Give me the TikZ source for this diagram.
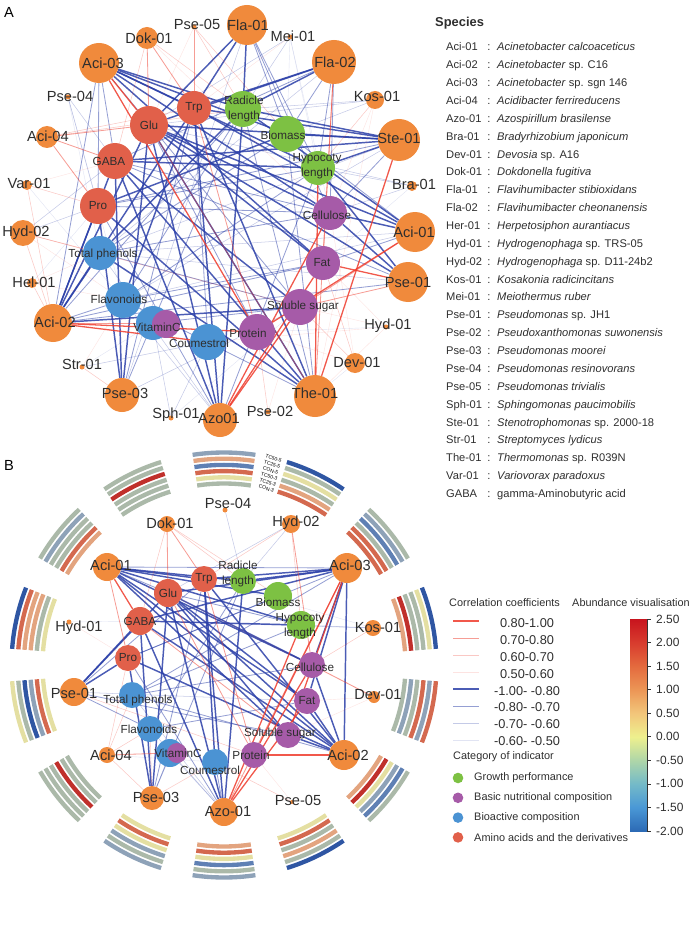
\documentclass[tikz,border=0pt]{standalone}
\usepackage{fontspec}
\setmainfont{Liberation Sans}

% node colours
\definecolor{cSp}{HTML}{F08A3C}
\definecolor{cAm}{HTML}{E1604A}
\definecolor{cGr}{HTML}{7DC143}
\definecolor{cPu}{HTML}{A65BA8}
\definecolor{cBl}{HTML}{4B93D3}
\definecolor{cTxt}{HTML}{2E2E2E}
\definecolor{eRed}{HTML}{EE3B2C}
\definecolor{eBlue}{HTML}{2B3FA8}
% ring stripe colours
\definecolor{sGG}{HTML}{ABB9A9}
\definecolor{sPY}{HTML}{E4DFA2}
\definecolor{sRO}{HTML}{D4694F}
\definecolor{sMB}{HTML}{5F80B4}
\definecolor{sPC}{HTML}{E3A47F}
\definecolor{sBG}{HTML}{8EA2B8}
\definecolor{sDB}{HTML}{2F56A3}
\definecolor{sDR}{HTML}{C0302B}
% colour bar
\definecolor{cb0}{HTML}{2C6AB5}
\definecolor{cb1}{HTML}{4A98D6}
\definecolor{cb2}{HTML}{74BAC8}
\definecolor{cb3}{HTML}{AFD6A8}
\definecolor{cb4}{HTML}{EEF08E}
\definecolor{cb5}{HTML}{F2C57A}
\definecolor{cb6}{HTML}{EC9656}
\definecolor{cb7}{HTML}{E46A3E}
\definecolor{cb8}{HTML}{D83C2E}
\definecolor{cb9}{HTML}{C8141E}

\pgfdeclarelayer{edges}
\pgfdeclarelayer{labels}
\pgfsetlayers{edges,main,labels}

\pgfdeclareverticalshading{abund}{100bp}{color(0bp)=(cb0); color(25bp)=(cb0);
  color(30.6bp)=(cb1); color(36.1bp)=(cb2); color(41.7bp)=(cb3); color(47.2bp)=(cb4);
  color(52.8bp)=(cb5); color(58.3bp)=(cb6); color(63.9bp)=(cb7); color(69.4bp)=(cb8);
  color(75bp)=(cb9); color(100bp)=(cb9)}

\begin{document}
\begin{tikzpicture}[
    x=0.03cm, y=-0.03cm,
    sp/.style={circle, fill=cSp, inner sep=0pt, minimum size=#1*0.06cm},
    am/.style={circle, fill=cAm, inner sep=0pt, minimum size=#1*0.06cm},
    gr/.style={circle, fill=cGr, inner sep=0pt, minimum size=#1*0.06cm},
    pu/.style={circle, fill=cPu, inner sep=0pt, minimum size=#1*0.06cm},
    bl/.style={circle, fill=cBl, inner sep=0pt, minimum size=#1*0.06cm},
    slab/.style={font=\fontsize{12.5}{14}\selectfont, text=cTxt, inner sep=0pt},
    ilab/.style={font=\fontsize{10}{12.6}\selectfont, text=cTxt, inner sep=0pt, align=center},
    p1/.style={draw=eRed, line width=1.1pt, draw opacity=.85},
    p2/.style={draw=eRed, line width=.7pt, draw opacity=.5},
    p3/.style={draw=eRed, line width=.45pt, draw opacity=.28},
    p4/.style={draw=eRed, line width=.35pt, draw opacity=.14},
    n1/.style={draw=eBlue, line width=1.25pt, draw opacity=.85},
    n2/.style={draw=eBlue, line width=.7pt, draw opacity=.5},
    n3/.style={draw=eBlue, line width=.45pt, draw opacity=.28},
    n4/.style={draw=eBlue, line width=.35pt, draw opacity=.14},
    stripe/.style={line width=3.7pt},
    rlab/.style={font=\fontsize{4.3}{4.5}\selectfont, inner sep=0pt, rotate=-18},
    lst/.style={font=\fontsize{9.5}{11}\selectfont, text=cTxt, inner sep=0pt},
    leg/.style={font=\fontsize{9.3}{11}\selectfont, text=cTxt, inner sep=0pt},
    legv/.style={font=\fontsize{10.9}{12}\selectfont, text=cTxt, inner sep=0pt},
    cbl/.style={font=\fontsize{10.2}{12}\selectfont, text=cTxt, inner sep=0pt},
    panel/.style={font=\fontsize{12.5}{14}\selectfont, inner sep=0pt}
]
    \useasboundingbox (0,0) rectangle (694,931);

    \node[panel] (pA) at (9,12) {A};
    \node[panel] (pB) at (9,465) {B};

    % ================= A: species =================
    \foreach \n/\x/\y/\r/\lx/\ly/\t in {
        aFla01/247/25/20/248/25/Fla-01, aPse05/194/27/2.5/197/24/Pse-05,
        aMei01/290/37/2.5/293/36/Mei-01, aDok01/147/38/11/149/38/Dok-01,
        aAci03/99/63/20/103/63/Aci-03, aFla02/334/62/22/335/62/Fla-02,
        aPse04/68/97/2.5/70/96/Pse-04, aKos01/375/100/9/377/96/Kos-01,
        aAci04/47/137/11/48/136/Aci-04, aSte01/399/140/21/399/138/Ste-01,
        aVar01/27/185/5/29/183/Var-01, aBra01/412/186/5/414/184/Bra-01,
        aHyd02/23/233/13/26/233/Hyd-02, aAci01/415/232/20/414/232/Aci-01,
        aHel01/32/283/5/34/282/Hel-01, aPse01/408/282/20/408/282/Pse-01,
        aAci02/53/323/19/55/322/Aci-02, aHyd01/386/327/2.5/388/326/Hyd-01,
        aStr01/82/367/2.5/82/364/Str-01, aDev01/355/363/10/357/362/Dev-01,
        aPse03/122/395/17/125/393/Pse-03, aThe01/315/396/21/315/393/The-01,
        aSph01/171/418/2.5/176/415/Sph-01, aAzo01/220/420/17/219/418/Azo01,
        aPse02/268/412/2.5/270/411/Pse-02} {
        \node[sp=\r] (\n) at (\x,\y) {};
        \begin{pgfonlayer}{labels}
            \node[slab] (t\n) at (\lx,\ly) {\t};
        \end{pgfonlayer}
    }

    % ================= A: indicators =================
    \foreach \n/\s/\x/\y/\r/\lx/\ly/\t in {
        aTrp/am/194/108/17/194/108/Trp, aRad/gr/243/109/18/244/109/Radicle\\length,
        aGlu/am/149/125/19/149/125/Glu, aBio/gr/287/134/18/283/135/Biomass,
        aGABA/am/115/161/18/109/161/GABA, aHyp/gr/318/168/17/317/166/Hypocoty\\length,
        aPro/am/98/206/18/98/206/Pro, aCel/pu/330/213/17/327/215/Cellulose,
        aTPh/bl/100/253/17/103/254/Total phenols, aFat/pu/323/263/17/322/263/Fat,
        aFlav/bl/123/300/18/119/299/Flavonoids, aSug/pu/300/307/18/303/306/Soluble sugar,
        aVitC/bl/153/323/17/157/327/VitaminC, aCoum/bl/208/342/18/199/343/Coumestrol,
        aProt/pu/257/332/18/248/333/Protein} {
        \node[\s=\r] (\n) at (\x,\y) {};
        \begin{pgfonlayer}{labels}
            \node[ilab] (t\n) at (\lx,\ly) {\t};
        \end{pgfonlayer}
    }
    \node[pu=14] (aVitP) at (166,324) {};

    % ---- A: correlations ----
    \begin{pgfonlayer}{edges}
    \foreach \a/\b in {aFla01/aGlu, aFla01/aTrp, aFla01/aRad, aFla02/aTrp, aFla02/aRad, aFla02/aGlu,
        aAci03/aTrp, aAci03/aRad, aAci03/aBio, aAci03/aHyp, aAci03/aCel, aAci03/aFat,
        aSte01/aTrp, aSte01/aRad, aSte01/aGlu, aSte01/aGABA, aSte01/aHyp, aSte01/aBio,
        aAci01/aRad, aAci01/aGlu, aAci01/aCel, aAci01/aTrp, aPse01/aCel, aPse01/aHyp, aPse01/aGlu,
        aAci02/aPro, aAci02/aGABA, aAci02/aGlu, aAci02/aTPh, aAci02/aSug, aAci02/aTrp,
        aPse03/aPro, aPse03/aGABA, aPse03/aGlu, aAzo01/aGlu, aAzo01/aTrp, aAzo01/aGABA, aAzo01/aRad,
        aThe01/aGlu, aThe01/aGABA, aThe01/aPro, aThe01/aTPh, aThe01/aTrp,
        aGlu/aCel, aGlu/aFat, aGABA/aHyp, aTrp/aFlav, aPro/aBio, aRad/aTPh, aGABA/aSug}
        \draw[n1] (\a) -- (\b);
    \foreach \a/\b in {aFla01/aHyp, aFla01/aBio, aFla01/aCel, aFla02/aHyp, aFla02/aBio, aFla02/aCel,
        aFla02/aGABA, aAci01/aFat, aAci01/aBio, aPse01/aGABA, aPse03/aRad, aPse03/aTrp,
        aAzo01/aHyp, aAzo01/aPro, aThe01/aRad, aThe01/aBio, aThe01/aFlav, aAci03/aPro, aAci03/aGABA,
        aAci03/aAci02, aAci03/aSug, aAci02/aFlav, aAci02/aFat, aAci02/aRad, aSte01/aPro, aSte01/aCel,
        aTPh/aSug, aFlav/aFat, aTPh/aCel, aVitC/aSug, aGlu/aProt, aTrp/aCoum, aGABA/aCel,
        aPro/aHyp, aBio/aTPh, aRad/aFlav, aHyp/aFlav, aCel/aPro, aAci02/aPse01}
        \draw[n2] (\a) -- (\b);
    \foreach \a/\b in {aMei01/aRad, aPse04/aGABA, aKos01/aRad, aKos01/aBio, aBra01/aHyp, aBra01/aCel,
        aHyd02/aPro, aHyd02/aGABA, aSph01/aCoum, aSph01/aVitC, aFla01/aPse03, aMei01/aGlu,
        aKos01/aGlu, aBra01/aGlu, aPse04/aPro, aFla02/aTPh, aSte01/aTPh, aPse01/aTPh, aAci01/aFlav,
        aStr01/aCoum, aAzo01/aTPh, aAzo01/aFlav, aPse03/aSug, aSte01/aFlav, aAci01/aTPh}
        \draw[n3] (\a) -- (\b);
    \foreach \a/\b in {aMei01/aBio, aMei01/aHyp, aPse04/aTPh, aStr01/aVitC, aBra01/aFat, aVar01/aFlav,
        aHyd01/aProt, aSph01/aSug, aDev01/aThe01, aHel01/aPro, aMei01/aCel, aPse04/aFlav}
        \draw[n4] (\a) -- (\b);
    \foreach \a/\b in {aAci03/aProt, aAci03/aGlu, aAzo01/aFat, aAzo01/aSug, aAzo01/aCel, aThe01/aHyp,
        aSte01/aThe01, aAci01/aProt, aPse01/aFat, aAci02/aProt, aAci02/aCoum}
        \draw[p1] (\a) -- (\b);
    \foreach \a/\b in {aAci04/aGABA, aAci04/aPro, aDok01/aGlu, aAci01/aSug, aPse01/aSug, aAci02/aVitC,
        aFla02/aFat, aThe01/aFla02, aGlu/aThe01, aTrp/aProt, aAci04/aGlu, aDok01/aTrp, aPse05/aTrp}
        \draw[p2] (\a) -- (\b);
    \foreach \a/\b in {aDok01/aGABA, aDok01/aRad, aPse05/aRad, aKos01/aHyp, aVar01/aPro, aHyd02/aTPh,
        aPse02/aProt, aDev01/aSug, aDev01/aFat, aHyd02/aAci02, aAci04/aTrp, aVar01/aAci02,
        aHyd02/aSug, aHel01/aAci02, aStr01/aPse03, aAci04/aRad, aPse05/aBio}
        \draw[p3] (\a) -- (\b);
    \foreach \a/\b in {aDok01/aCel, aPse05/aGlu, aKos01/aCel, aVar01/aGABA, aHyd02/aFlav, aHel01/aFlav,
        aHel01/aTPh, aHyd01/aSug, aHyd01/aFat, aPse02/aSug, aDev01/aProt, aHyd01/aThe01,
        aMei01/aTrp, aKos01/aThe01, aDev01/aCel, aHyd01/aCoum, aStr01/aFlav}
        \draw[p4] (\a) -- (\b);
    \end{pgfonlayer}

    % ================= species list =================
    \node[font=\bfseries\fontsize{11}{13}\selectfont, text=cTxt, inner sep=0pt, anchor=west]
        (spHead) at (435,23) {Species};
    \foreach \c/\g [count=\i from 0] in {
        Aci-01/\textit{Acinetobacter calcoaceticus}, Aci-02/\textit{Acinetobacter} sp. C16,
        Aci-03/\textit{Acinetobacter} sp. sgn 146, Aci-04/\textit{Acidibacter ferrireducens},
        Azo-01/\textit{Azospirillum brasilense}, Bra-01/\textit{Bradyrhizobium japonicum},
        Dev-01/\textit{Devosia} sp. A16, Dok-01/\textit{Dokdonella fugitiva},
        Fla-01/\textit{Flavihumibacter stibioxidans}, Fla-02/\textit{Flavihumibacter cheonanensis},
        Her-01/\textit{Herpetosiphon aurantiacus}, Hyd-01/\textit{Hydrogenophaga} sp. TRS-05,
        Hyd-02/\textit{Hydrogenophaga} sp. D11-24b2, Kos-01/\textit{Kosakonia radicincitans},
        Mei-01/\textit{Meiothermus ruber}, Pse-01/\textit{Pseudomonas} sp. JH1,
        Pse-02/\textit{Pseudoxanthomonas suwonensis}, Pse-03/\textit{Pseudomonas moorei},
        Pse-04/\textit{Pseudomonas resinovorans}, Pse-05/\textit{Pseudomonas trivialis},
        Sph-01/\textit{Sphingomonas paucimobilis}, Ste-01/\textit{Stenotrophomonas} sp. 2000-18,
        Str-01/\textit{Streptomyces lydicus}, The-01/\textit{Thermomonas} sp. R039N,
        Var-01/\textit{Variovorax paradoxus}, GABA/gamma-Aminobutyric acid} {
        \node[lst, anchor=base west] (sc\i) at (446, 50.8+17.87*\i) {\c};
        \node[lst, anchor=base] (sk\i) at (489, 50.8+17.87*\i) {:};
        \node[lst, anchor=base west] (sn\i) at (497, 50.8+17.87*\i) {\g};
    }

    % ================= B: abundance rings =================
    \begin{scope}[shift={(224,665)}, y=0.03cm]
        \foreach \k/\cols in {0/{sGG,sPY,sRO,sMB,sPC,sBG}, 1/{sRO,sPC,sGG,sPY,sGG,sDB},
            2/{sRO,sRO,sGG,sMB,sBG,sGG}, 3/{sPC,sDR,sGG,sGG,sPY,sDB}, 4/{sGG,sBG,sGG,sRO,sBG,sRO},
            5/{sPC,sDR,sPY,sBG,sMB,sGG}, 6/{sPY,sRO,sGG,sPC,sGG,sDB}, 7/{sPC,sRO,sPY,sMB,sGG,sBG},
            8/{sPY,sRO,sPY,sBG,sGG,sBG}, 9/{sGG,sGG,sDR,sGG,sGG,sGG}, 10/{sPY,sRO,sBG,sDB,sGG,sPY},
            11/{sPY,sGG,sPC,sPC,sRO,sDB}, 12/{sPC,sRO,sGG,sGG,sBG,sGG}, 13/{sGG,sGG,sGG,sDR,sGG,sGG}} {
            \pgfmathsetmacro\amid{90-25.714*\k}
            \foreach \c [count=\i from 0] in \cols {
                \pgfmathsetmacro\arad{181.5+6.2*\i}
                \draw[stripe, draw=\c] ({\amid-8.5}:\arad)
                    arc[start angle=\amid-8.5, end angle=\amid+8.5, radius=\arad];
            }
        }
        \foreach \t [count=\i from 0] in {CON-3,TC25-3,TC50-3,CON-5,TC25-5,TC50-5}
            \node[rlab] (rl\i) at ({76.5}:{181.5+6.2*\i}) {\t};
    \end{scope}

    % ================= B: species =================
    \foreach \n/\x/\y/\r/\lx/\ly/\t in {
        bPse04/225/510/2.5/228/503/Pse-04, bDok01/167/524/8/170/523/Dok-01,
        bHyd02/291/524/9/296/523/Hyd-02, bAci01/107/567/14/111/565/Aci-01,
        bAci03/347/568/15/350/565/Aci-03, bHyd01/69/622/2.5/79/628/Hyd-01,
        bKos01/373/628/8/378/627/Kos-01, bPse01/74/692/14/74/693/Pse-01,
        bDev01/374/697/6/378/694/Dev-01, bAci04/107/755/8/111/755/Aci-04,
        bAci02/344/755/15/348/755/Aci-02, bPse03/152/798/12/156/797/Pse-03,
        bPse05/292/802/2/298/800/Pse-05, bAzo01/224/812/14/228/811/Azo-01} {
        \node[sp=\r] (\n) at (\x,\y) {};
        \begin{pgfonlayer}{labels}
            \node[slab] (t\n) at (\lx,\ly) {\t};
        \end{pgfonlayer}
    }

    % ================= B: indicators =================
    \foreach \n/\s/\x/\y/\r/\lx/\ly/\t in {
        bTrp/am/204/579/13/204/579/Trp, bRad/gr/243/581/13/238/574/Radicle\\length,
        bGlu/am/168/593/14/168/593/Glu, bBio/gr/278/596/14/278/602/Biomass,
        bGABA/am/140/621/14/140/621/GABA, bHyp/gr/301/625/14/300/626/Hypocoty\\length,
        bPro/am/128/658/13/128/658/Pro, bCel/pu/312/665/13/310/667/Cellulose,
        bTPh/bl/132/695/13/138/700/Total phenols, bFat/pu/307/701/13/307/701/Fat,
        bFlav/bl/150/729/13/149/729/Flavonoids, bSug/pu/288/735/13/280/733/Soluble sugar,
        bVitC/bl/170/753/14/178/753/VitaminC, bCoum/bl/215/762/13/210/770/Coumestrol,
        bProt/pu/254/755/13/251/755/Protein} {
        \node[\s=\r] (\n) at (\x,\y) {};
        \begin{pgfonlayer}{labels}
            \node[ilab] (t\n) at (\lx,\ly) {\t};
        \end{pgfonlayer}
    }
    \node[pu=10] (bVitP) at (177,753) {};

    % ---- B: correlations ----
    \begin{pgfonlayer}{edges}
    \foreach \a/\b in {bAci01/bTrp, bAci01/bRad, bAci01/bBio, bAci01/bHyp, bAci01/bCel, bAci01/bFat,
        bAci01/bAci02, bAci01/bSug, bAci03/bGlu, bAci03/bTrp, bAci03/bGABA, bAci03/bAci02,
        bAci03/bFat, bAci03/bCel, bAci03/bRad, bAci02/bGlu, bAci02/bGABA, bAci02/bTrp, bAci02/bCel,
        bAci02/bFat, bAci02/bSug, bAci02/bPro, bPse01/bGABA, bPse01/bPro, bPse01/bGlu,
        bAzo01/bGlu, bAzo01/bGABA, bAzo01/bTrp, bAzo01/bRad, bPse03/bGlu, bPse03/bGABA, bPse03/bPro,
        bGlu/bFat, bGlu/bSug, bGABA/bHyp, bGlu/bCel, bTrp/bCoum}
        \draw[n1] (\a) -- (\b);
    \foreach \a/\b in {bAci01/bGlu, bAci01/bAci03, bAci03/bPro, bAci03/bTPh, bPse01/bFlav, bPse01/bSug,
        bPse01/bTrp, bPse03/bRad, bPse03/bTrp, bAzo01/bCoum, bAzo01/bPro, bTPh/bCel, bFlav/bFat,
        bTPh/bHyp, bRad/bFlav, bGlu/bHyp, bPro/bBio, bAci02/bTPh}
        \draw[n2] (\a) -- (\b);
    \foreach \a/\b in {bHyd02/bRad, bHyd02/bGlu, bPse04/bRad, bKos01/bHyp, bPse01/bFat, bPse03/bVitC,
        bAzo01/bTPh, bAzo01/bFlav, bAzo01/bVitC, bKos01/bGABA}
        \draw[n3] (\a) -- (\b);
    \foreach \a/\b in {bKos01/bTrp, bAci04/bCoum, bHyd01/bGABA}
        \draw[n4] (\a) -- (\b);
    \foreach \a/\b in {bAci02/bProt, bAzo01/bCel, bAzo01/bFat, bAzo01/bHyp, bAci03/bProt,
        bAci01/bGABA, bAci03/bSug}
        \draw[p1] (\a) -- (\b);
    \foreach \a/\b in {bDok01/bGlu, bDok01/bTrp, bHyd02/bCel, bDev01/bCel, bAci04/bVitC, bGABA/bSug,
        bAci03/bAzo01, bAci01/bPro, bTrp/bProt, bGlu/bProt}
        \draw[p2] (\a) -- (\b);
    \foreach \a/\b in {bDok01/bGABA, bDok01/bRad, bDok01/bBio, bHyd02/bHyp, bHyd02/bTrp, bAci04/bFlav,
        bAci04/bTPh, bAci04/bPro, bPse05/bCoum, bPse01/bProt, bPse03/bCoum, bPse03/bFlav,
        bAci04/bPse03, bKos01/bCel}
        \draw[p3] (\a) -- (\b);
    \foreach \a/\b in {bDev01/bSug, bDev01/bFat, bHyd01/bPro, bPse05/bProt, bDev01/bGlu}
        \draw[p4] (\a) -- (\b);
    \end{pgfonlayer}

    % ================= legend =================
    \node[leg, anchor=west] (lgCorr) at (449,603) {Correlation coefficients};
    \node[leg, anchor=west] (lgAbund) at (572,603) {Abundance visualisation};
    \foreach \s/\t [count=\i from 0] in {p1/0.80-1.00, p2/0.70-0.80, p3/0.60-0.70, p4/0.50-0.60,
        n1/-1.00- -0.80, n2/-0.80- -0.70, n3/-0.70- -0.60, n4/-0.60- -0.50} {
        \draw[\s] (453, 621+17*\i) -- (479, 621+17*\i);
        \node[legv] (lv\i) at (527, 623+16.9*\i) {\t};
    }
    \node[leg, anchor=west] (lgCat) at (453,757) {Category of indicator};
    \foreach \s/\t [count=\i from 0] in {gr/Growth performance, pu/Basic nutritional composition,
        bl/Bioactive composition, am/Amino acids and the derivatives} {
        \node[\s=5.3] (ld\i) at (458, 778+19.8*\i) {};
        \node[leg, anchor=west] (lc\i) at (474, 778+19.8*\i) {\t};
    }

    % ---- colour bar ----
    \shade[shading=abund] (630,619) rectangle (647,831);
    \draw[black!80, line width=.6pt] (647,619) -- (647,831);
    \foreach \v [count=\i from 0] in {2.50, 2.00, 1.50, 1.00, 0.50, 0.00, -0.50, -1.00, -1.50, -2.00} {
        \draw[black!80, line width=.5pt] (647, 619+23.55*\i) -- (651, 619+23.55*\i);
        \node[cbl, anchor=west] (cb\i) at (656, 619+23.55*\i) {\v};
    }
\end{tikzpicture}
\end{document}
